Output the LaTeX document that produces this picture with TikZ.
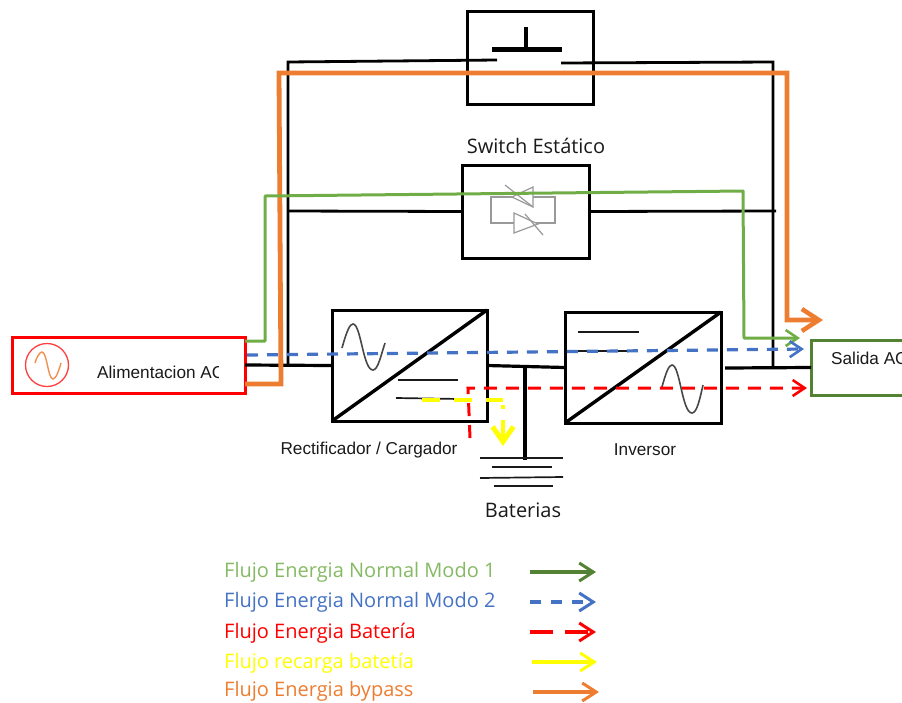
\documentclass[tikz,border=0pt]{standalone}
\usepackage{fontspec}
\setmainfont{Open Sans}
\newfontfamily\thinfont{Liberation Sans}
\usetikzlibrary{arrows.meta}
\definecolor{cgreen}{HTML}{70AD47}
\definecolor{cdkgreen}{HTML}{548235}
\definecolor{corange}{HTML}{ED7D31}
\definecolor{cblue}{HTML}{4472C4}
\definecolor{cyellow}{HTML}{FFFF00}
\definecolor{cred}{HTML}{FF0000}
\definecolor{ctext}{HTML}{1A1A1A}
\tikzset{
  box/.style={draw=black,line width=3pt,inner sep=0pt,outer sep=0pt,fill=white},
  wire/.style={draw=black,line width=3.2pt,line join=miter},
  thinwire/.style={draw=black,line width=2.8pt},
  plate/.style={draw=ctext,line width=1.7pt},
  wave/.style={draw=ctext!80,line width=1.6pt},
  scr/.style={draw=black!40,line width=1.2pt},
  tip/.style={-{Straight Barb[length=12pt,width=16pt,line width=#1]}},
  tip/.default=2.6pt,
  flowgreen/.style={draw=cgreen,line width=3pt,line join=round,tip},
  floworange/.style={draw=corange,line width=4.8pt,line join=miter,-{Straight Barb[length=17pt,width=22pt,line width=4.5pt]}},
  flowblue/.style={draw=cblue,line width=3.2pt,dash pattern=on 11pt off 9pt,tip},
  flowred/.style={draw=cred,line width=3pt,dash pattern=on 13pt off 9pt,tip},
  flowyellow/.style={draw=cyellow,line width=3.6pt,dash pattern=on 18pt off 14pt},
  lab/.style={font=\thinfont\fontsize{17.2}{19}\selectfont,text=ctext,inner sep=0pt},
  leg/.style={font=\fontsize{20}{22}\selectfont,anchor=west,inner sep=0pt},
  legarrow/.style={line width=3.2pt,-{Straight Barb[length=14pt,width=18pt,line width=3pt]}},
}
\begin{document}
\begin{tikzpicture}[x=1pt,y=-1pt]
\useasboundingbox (0,0) rectangle (902,702);
\clip (0,0) rectangle (902,702);
% boxes
\node[box,minimum width=126pt,minimum height=93pt] (sw) at (530,57.5) {};
\node[box,minimum width=127pt,minimum height=93pt] (st) at (525.5,211.5) {};
\node[box,draw=cred,minimum width=233pt,minimum height=56pt] (src) at (128.5,365) {};
\node[box,minimum width=155pt,minimum height=111pt] (rec) at (409.5,365.5) {};
\node[box,minimum width=156pt,minimum height=111pt] (inv) at (643,367.5) {};
\node[box,draw=cdkgreen,minimum width=140pt,minimum height=55pt] (out) at (881,367.5) {};
% coordinates
\coordinate (srcB) at (245,365);
\coordinate (bypL) at (288,365);
\coordinate (bypLT) at (288,62);
\coordinate (conL) at (497,60);
\coordinate (conR) at (561,63);
\coordinate (bypRT) at (773,62);
\coordinate (bypR) at (773,368);
\coordinate (invOut) at (725,368);
\coordinate (stL) at (288,211);
\coordinate (stR) at (776,211);
\coordinate (busT) at (525,366);
\coordinate (busB) at (525,460);
\coordinate (barL) at (492,49);
\coordinate (barR) at (562,49);
\coordinate (stemT) at (526,27);
\coordinate (stemB) at (526,49);
% gray SCR
\draw[scr] (491,197) rectangle (555,223);
\draw[scr,fill=white] (533,187) -- (533,207) -- (512,197) -- cycle;
\draw[scr] (505,185) -- (533,207);
\draw[scr,fill=white] (514,213) -- (514,233) -- (538,224) -- cycle;
\draw[scr] (525,214) -- (543,235);
% black wiring
\draw[wire] (srcB) -- (rec.west);
\draw[thinwire] (bypL) -- (bypLT) -- (conL);
\draw[thinwire] (conR) -- (bypRT) -- (bypR);
\draw[wire] (invOut) -- (out.west);
\draw[thinwire] (stL) -- (st.west);
\draw[thinwire] (st.east) -- (stR);
\draw[wire] (rec.east) -- (inv.west);
\draw[line width=4.5pt] (busT) -- (busB);
\draw[line width=5pt] (barL) -- (barR);
\draw[line width=4.5pt] (stemT) -- (stemB);
% battery
\coordinate (p1l) at (480,458); \coordinate (p1r) at (563,458);
\coordinate (p2l) at (492,467); \coordinate (p2r) at (552,467);
\coordinate (p3l) at (480,478); \coordinate (p3r) at (563,477);
\coordinate (p4l) at (494,486); \coordinate (p4r) at (553,486);
\draw[plate] (p1l) -- (p1r);
\draw[plate] (p2l) -- (p2r);
\draw[plate] (p3l) -- (p3r);
\draw[plate] (p4l) -- (p4r);
% converter symbols
\draw[line width=3.4pt] (rec.south west) -- (rec.north east);
\draw[line width=3.4pt] (inv.south west) -- (inv.north east);
\draw[plate] (398,380) -- (458,380);
\draw[plate] (396,398) -- (460,399);
\draw[plate] (578,332) -- (639,332);
\draw[plate] (578,351) -- (632,351);
\draw[wave] (342,348) .. controls (347,330) and (350,324) .. (353,324) .. controls (361,324) and (363,370) .. (373,370) .. controls (378,370) and (381,355) .. (385,343);
\draw[wave] (662,387) .. controls (666,372) and (669,365) .. (672,365) .. controls (680,365) and (682,413) .. (692,413) .. controls (697,413) and (700,398) .. (703,385);
% AC symbol
\node[draw=cred!75,line width=1.3pt,circle,minimum size=43pt,inner sep=0pt] (acs) at (47,365) {};
\draw[draw=corange!85,line width=1.4pt] (35,363) .. controls (37,356) and (40,352) .. (42,352) .. controls (47,352) and (48,379) .. (53,379) .. controls (56,379) and (59,370) .. (61,363);
% flows
\coordinate (o1) at (245,384); \coordinate (o2) at (281,384); \coordinate (o3) at (279,73);
\coordinate (o4) at (787,73); \coordinate (o5) at (787,320); \coordinate (o6) at (823,320);
\draw[floworange] (o1) -- (o2) -- (o3) -- (o4) -- (o5) -- (o6);
\coordinate (g1) at (245,341); \coordinate (g2) at (265,341); \coordinate (g3) at (265,196);
\coordinate (g4) at (743,191); \coordinate (g5) at (744,338); \coordinate (g6) at (800,338);
\draw[flowgreen] (g1) -- (g2) -- (g3) -- (g4) -- (g5) -- (g6);
\coordinate (b1) at (247,355); \coordinate (b2) at (804,349);
\draw[flowblue] (b1) -- (b2);
\coordinate (r1) at (470,438); \coordinate (r2) at (468,388); \coordinate (r3) at (807,388);
\draw[flowred] (r1) -- (r2) -- (r3);
\coordinate (y1) at (422,400); \coordinate (y2) at (503,400);
\draw[flowyellow] (y1) -- (y2);
\coordinate (yd1) at (503,405); \coordinate (yd2) at (503,409);
\draw[draw=cyellow,line width=3.6pt] (yd1) -- (yd2);
\coordinate (y4) at (503,420); \coordinate (y5) at (503,446);
\draw[draw=cyellow,line width=4pt,-{Straight Barb[length=15pt,width=21pt,line width=5pt]}] (y4) -- (y5);
% labels
\node[font=\fontsize{20}{22}\selectfont,text=ctext,inner sep=0pt] (tsw) at (536,146) {Switch Estático};
\begin{scope}
\clip (90,345) rectangle (218,390);
\node[lab,anchor=west] (tsrc) at (97,372) {Alimentacion AC};
\end{scope}
\node[lab] (trec) at (369,450) {Rectificador / Cargador};
\node[lab] (tinv) at (645,450) {Inversor};
\node[font=\fontsize{20}{22}\selectfont,text=ctext,inner sep=0pt] (tbat) at (523,510) {Baterias};
\node[lab,anchor=west] (tout) at (831,358) {Salida AC};
% legend
\node[leg,text=cgreen!85!white] (l1) at (224,572) {Flujo Energia Normal Modo 1};
\node[leg,text=cblue] (l2) at (224,602) {Flujo Energia Normal Modo 2};
\node[leg,text=cred] (l3) at (224,633) {Flujo Energia Batería};
\node[leg,text=cyellow] (l4) at (224,663) {Flujo recarga batetía};
\node[leg,text=corange] (l5) at (224,691.5) {Flujo Energia bypass};
\coordinate (a1) at (530,572); \coordinate (a1e) at (596,572);
\coordinate (a2) at (530,602); \coordinate (a2e) at (596,602);
\coordinate (a3) at (530,632); \coordinate (a3e) at (596,632);
\coordinate (a4) at (532,662); \coordinate (a4e) at (597,662);
\coordinate (a5) at (533,692); \coordinate (a5e) at (599,692);
\draw[legarrow,draw=cdkgreen] (a1) -- (a1e);
\draw[legarrow,draw=cblue,dash pattern=on 11pt off 10pt] (a2) -- (a2e);
\draw[legarrow,draw=cred,dash pattern=on 23pt off 12pt] (a3) -- (a3e);
\draw[legarrow,draw=cyellow] (a4) -- (a4e);
\draw[legarrow,draw=corange] (a5) -- (a5e);
\end{tikzpicture}
\end{document}
